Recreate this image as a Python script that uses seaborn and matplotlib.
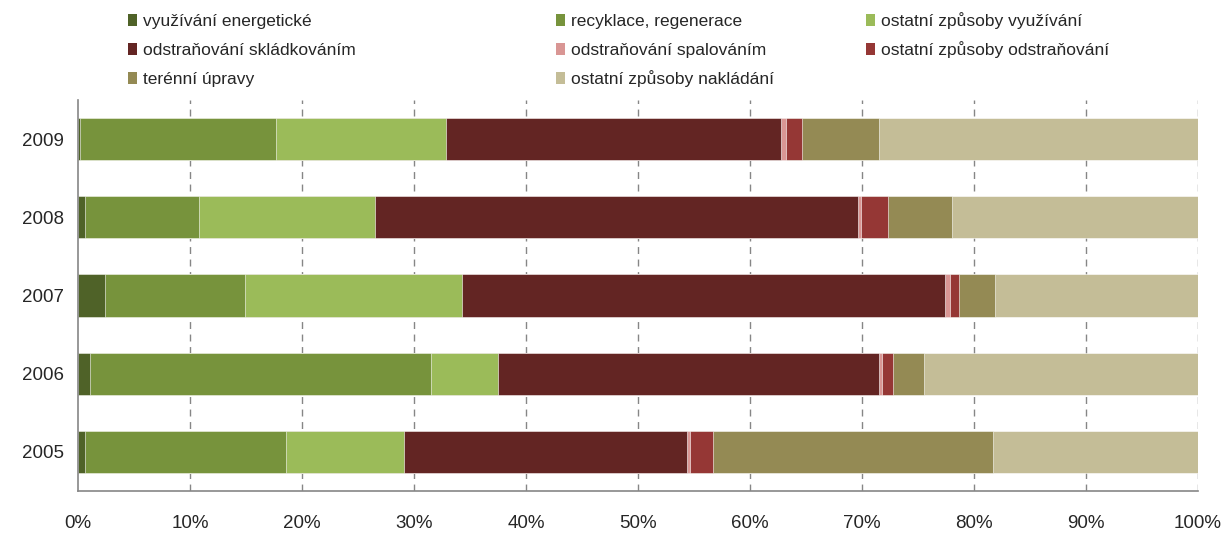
import numpy as np
import pandas as pd
import seaborn as sns
import matplotlib.pyplot as plt
from matplotlib.patches import Rectangle

# data (shares in %)
years = ["2009", "2008", "2007", "2006", "2005"]
energeticke = [0.2, 0.6, 2.4, 1.1, 0.6]
recyklace = [17.5, 10.2, 12.5, 30.4, 18.0]
ostatni_vyuz = [15.2, 15.7, 19.4, 6.0, 10.5]
skladkovani = [29.9, 43.1, 43.1, 34.0, 25.3]
spalovani = [0.4, 0.3, 0.5, 0.3, 0.2]
ostatni_odstr = [1.4, 2.4, 0.8, 1.0, 2.1]
terenni = [6.9, 5.7, 3.2, 2.7, 25.0]
nakladani = [28.5, 22.0, 18.1, 24.5, 18.3]

labels = ["využívání energetické", "recyklace, regenerace", "ostatní způsoby využívání",
          "odstraňování skládkováním", "odstraňování spalováním", "ostatní způsoby odstraňování",
          "terénní úpravy", "ostatní způsoby nakládání"]
colors = ["#4F6228", "#77933C", "#9BBB59", "#632523", "#D99694", "#953735", "#948A54", "#C4BD97"]

df = pd.DataFrame({"year": years})
series = [energeticke, recyklace, ostatni_vyuz, skladkovani, spalovani, ostatni_odstr, terenni, nakladani]
for lab, vals in zip(labels, series):
    df[lab] = vals
# cumulative sums so bars can be stacked by overlaying
cum = df[labels].cumsum(axis=1)
cum["year"] = years

sns.set_style("white")
plt.rcParams["font.family"] = ["Liberation Sans", "DejaVu Sans"]

fig = plt.figure(figsize=(12.26, 5.37), dpi=100)
ax = fig.add_axes([78 / 1226, 46 / 537, 1120 / 1226, 391 / 537])

grey = "#868686"
for x in range(10, 101, 10):
    ax.axvline(x, color=grey, lw=1, ls=(0, (5, 4)), zorder=0)

# draw from the longest cumulative bar to the shortest
for lab, col in reversed(list(zip(labels, colors))):
    sns.barplot(data=cum, x=lab, y="year", order=years, orient="h", color=col,
                saturation=1, width=0.54, edgecolor="white", linewidth=0.4, ax=ax, zorder=2)

ax.set_xlim(0, 100)
ax.set_ylim(4.5, -0.5)
ax.set_xlabel("")
ax.set_ylabel("")
ax.set_xticks(range(0, 101, 10))
ax.set_xticklabels([f"{v}%" for v in range(0, 101, 10)], fontsize=13.5)
ax.set_yticks(range(5))
ax.set_yticklabels(years, fontsize=13.5)
ax.set_yticks(np.arange(-0.5, 5, 1), minor=True)
ax.tick_params(axis="y", which="major", length=0, pad=10)
ax.tick_params(axis="y", which="minor", length=5, color=grey, width=1, direction="out")
ax.tick_params(axis="x", which="major", length=5, color=grey, width=1, direction="out", pad=12)
for s in ["top", "right"]:
    ax.spines[s].set_visible(False)
for s in ["left", "bottom"]:
    ax.spines[s].set_color(grey)
    ax.spines[s].set_linewidth(1.2)

# legend laid out by hand: rows go across, three columns
col_x = [128, 556, 866]
row_y = [20, 49, 78]
for i, (lab, col) in enumerate(zip(labels, colors)):
    xp = col_x[i % 3]
    yp = row_y[i // 3]
    fig.patches.append(Rectangle((xp / 1226, 1 - (yp + 6) / 537), 9 / 1226, 12 / 537,
                                 transform=fig.transFigure, facecolor=col, edgecolor="none"))
    fig.text((xp + 15) / 1226, 1 - (yp + 6) / 537, lab, va="baseline", ha="left",
             fontsize=12.5)

fig.savefig("out.png", dpi=100)
